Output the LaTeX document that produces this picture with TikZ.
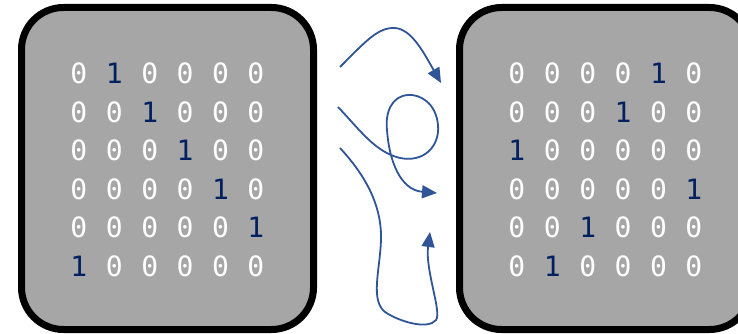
\documentclass[tikz,border=0pt]{standalone}
\usepackage{fontspec}
\setmonofont{DejaVu Sans Mono}
\usetikzlibrary{arrows.meta}

\definecolor{boxgray}{HTML}{A6A6A6}
\definecolor{onecolor}{HTML}{002060}
\definecolor{flowblue}{HTML}{2F5597}

\begin{document}
\begin{tikzpicture}[x=1pt, y=-1pt
        , every node/.style={ font=\ttfamily\fontsize{28}{28}\selectfont, inner sep=0pt }
        , board/.style={ draw=black, fill=boxgray, line width=7pt, rounded corners=42pt }
        , cell0/.style={ text=white }
        , cell1/.style={ text=onecolor }
        , flow/.style={ draw=flowblue, line width=1.8pt, -{Triangle[length=15pt,width=13pt]} }
        ]

        \clip (0,0) rectangle (738,334);

        % the two boards
        \draw[board] (21.5,7.5) rectangle (313.5,329.5);
        \draw[board] (459.5,7.5) rectangle (751.5,329.5);

        % left matrix
        \foreach \line [count=\r] in {{0,1,0,0,0,0},{0,0,1,0,0,0},{0,0,0,1,0,0},
                                      {0,0,0,0,1,0},{0,0,0,0,0,1},{1,0,0,0,0,0}}
            \foreach \v [count=\c] in \line
                \node[cell\v] (L-\r-\c) at (43.5+35.4*\c, 35+38.5*\r) {\v};

        % right matrix, rows shuffled
        \foreach \line [count=\r] in {{0,0,0,0,1,0},{0,0,0,1,0,0},{1,0,0,0,0,0},
                                      {0,0,0,0,0,1},{0,0,1,0,0,0},{0,1,0,0,0,0}}
            \foreach \v [count=\c] in \line
                \node[cell\v] (R-\r-\c) at (481.5+35.4*\c, 35+38.5*\r) {\v};

        % ends of the three arrows
        \coordinate (a1s) at (340,67);
        \coordinate (a1e) at (441,83);
        \coordinate (a2s) at (338,107);
        \coordinate (a2e) at (437,193);
        \coordinate (a3s) at (340,148);
        \coordinate (a3e) at (430,232);

        % upper arrow, over the top
        \draw[flow] (a1s) .. controls (365,42) and (378,27) .. (395,28)
                          .. controls (412,29) and (425,55) .. (a1e);

        % middle arrow with a loop
        \draw[flow] (a2s) .. controls (360,130) and (375,152) .. (400,158)
                          .. controls (425,163) and (440,145) .. (438,125)
                          .. controls (436,103) and (420,94) .. (408,95)
                          .. controls (392,96) and (385,112) .. (387,130)
                          .. controls (389,160) and (400,190) .. (a2e);

        % lower arrow, down and back up
        \draw[flow] (a3s) .. controls (365,175) and (382,205) .. (381,240)
                          .. controls (380,270) and (370,300) .. (385,312)
                          .. controls (400,322) and (428,330) .. (436,320)
                          .. controls (442,312) and (425,270) .. (a3e);

    \end{tikzpicture}
\end{document}
